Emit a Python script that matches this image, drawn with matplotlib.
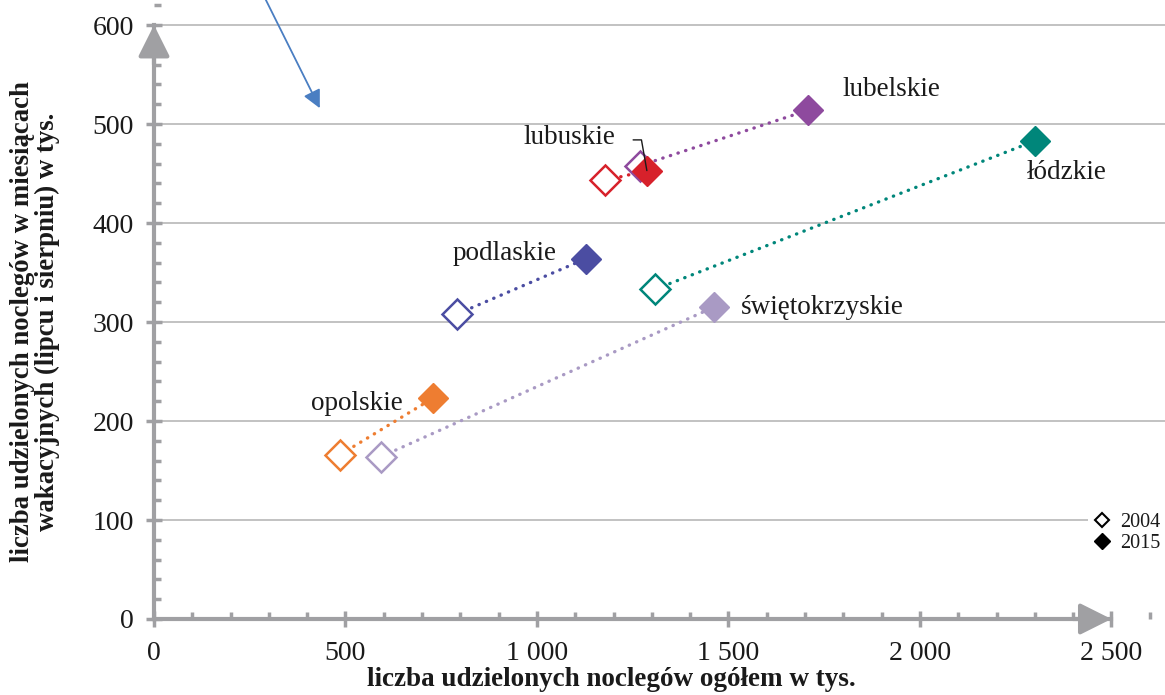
import matplotlib
matplotlib.use("Agg")
import matplotlib.pyplot as plt
from matplotlib.lines import Line2D
from matplotlib.ticker import MultipleLocator, FuncFormatter

plt.rcParams['font.family'] = ['Liberation Serif', 'DejaVu Serif']

# dane (tys. noclegów)
regiony = ['opolskie', 'świętokrzyskie', 'podlaskie', 'łódzkie', 'lubuskie', 'lubelskie']
x2004 = [486, 593, 791, 1308, 1178, 1269]
y2004 = [166, 164, 308, 333, 443, 458]
x2015 = [728, 1462, 1128, 2300, 1287, 1708]
y2015 = [223, 315, 364, 483, 453, 514]
kolory = ['#EE7D31', '#A99AC4', '#4B4DA2', '#00867A', '#D7212B', '#8E4A9E']

# pozycje podpisów
lab_x = [650, 1533, 1052, 2384, 1204, 1799]
lab_y = [218, 315, 369, 451, 486, 535]
lab_ha = ['right', 'left', 'right', 'center', 'right', 'left']

szary = '#A0A0A3'
tekst = '#1A1A1A'

fig = plt.figure(figsize=(11.65, 6.95), dpi=100)
ax = fig.add_axes([154 / 1165, 76 / 695, 1011 / 1165, 619 / 695])
ax.set_xlim(0, 2640)
ax.set_ylim(0, 625.3)

# siatka
for v in range(100, 601, 100):
    ax.axhline(v, color='#B2B2B2', lw=1.1, zorder=0)

# osie
for s in ['top', 'right']:
    ax.spines[s].set_visible(False)
ax.spines['left'].set_bounds(0, 600)
ax.spines['bottom'].set_bounds(0, 2500)
for s in ['left', 'bottom']:
    ax.spines[s].set_color(szary)
    ax.spines[s].set_linewidth(3)
    ax.spines[s].set_zorder(2)

ax.xaxis.set_major_locator(MultipleLocator(500))
ax.xaxis.set_minor_locator(MultipleLocator(100))
ax.yaxis.set_major_locator(MultipleLocator(100))
ax.yaxis.set_minor_locator(MultipleLocator(20))
ax.xaxis.set_major_formatter(FuncFormatter(lambda v, p: f'{int(v):,}'.replace(',', ' ')))
ax.tick_params(which='major', direction='inout', length=11, width=2.5, color=szary,
               labelsize=20, labelcolor=tekst)
ax.tick_params(which='minor', direction='in', length=5, width=2.5, color=szary)
ax.tick_params(axis='x', which='major', pad=10)
ax.tick_params(axis='y', which='major', pad=9)

# groty strzałek osi
ax.annotate('', xy=(0, 600), xytext=(0, 560),
            arrowprops=dict(arrowstyle='-|>,head_length=0.4,head_width=0.2', color=szary,
                            lw=3, mutation_scale=48, shrinkA=0, shrinkB=0), zorder=3)
ax.annotate('', xy=(2500, 0), xytext=(2400, 0),
            arrowprops=dict(arrowstyle='-|>,head_length=0.4,head_width=0.2', color=szary,
                            lw=3, mutation_scale=48, shrinkA=0, shrinkB=0), zorder=3)

# linie kropkowane
for i in range(len(regiony)):
    ax.plot([x2004[i], x2015[i]], [y2004[i], y2015[i]], color=kolory[i], lw=2.4,
            linestyle=(0, (0.1, 2.3)), dash_capstyle='round', zorder=3)

for i in range(len(regiony)):
    ax.plot(x2004[i], y2004[i], marker='D', ms=15, mfc='white', mec=kolory[i], mew=1.8,
            zorder=4, clip_on=False)
for i in range(len(regiony)):
    ax.plot(x2015[i], y2015[i], marker='D', ms=15, mfc=kolory[i], mec=kolory[i], mew=1,
            zorder=5, clip_on=False)

for i in range(len(regiony)):
    if regiony[i] == 'lubuskie':
        ax.annotate(regiony[i], xy=(x2015[i], y2015[i]), xytext=(lab_x[i], lab_y[i]),
                    ha='right', va='center', fontsize=19.5, color=tekst, zorder=6,
                    arrowprops=dict(arrowstyle='-', color=tekst, lw=1,
                                    connectionstyle='angle,angleA=0,angleB=100,rad=0',
                                    relpos=(1, 0.42), shrinkA=11, shrinkB=0))
    else:
        ax.text(lab_x[i], lab_y[i], regiony[i], ha=lab_ha[i], va='center', fontsize=19.5,
                color=tekst, zorder=6)

# niebieska strzałka
ax.annotate('', xy=(433, 516), xytext=(290, 627), annotation_clip=False,
            arrowprops=dict(arrowstyle='-|>,head_length=0.6,head_width=0.3', color='#4A7EC2',
                            lw=1.3, mutation_scale=18, shrinkA=0, shrinkB=0))

# legenda
uchwyty = [Line2D([], [], ls='none', marker='D', ms=7, mfc='white', mec='black', mew=1.5),
           Line2D([], [], ls='none', marker='D', ms=8, mfc='black', mec='black')]
leg = fig.legend(uchwyty, ['2004', '2015'], loc='center left',
                 bbox_to_anchor=(1088 / 1165, 1 - 533 / 695), fontsize=14.5,
                 frameon=True, facecolor='white', edgecolor='none', framealpha=1,
                 handlelength=1, handletextpad=0.4, borderpad=0.2, labelspacing=0.1,
                 borderaxespad=0, fancybox=False)
for t in leg.get_texts():
    t.set_color(tekst)

fig.text(611 / 1165, 1 - 680 / 695, 'liczba udzielonych noclegów ogółem w tys.',
         ha='center', va='center', fontsize=19.5, fontweight='bold', color=tekst)
fig.text(35 / 1165, 1 - 322 / 695,
         'liczba udzielonych noclegów w miesiącach\nwakacyjnych (lipcu i sierpniu) w tys.',
         ha='center', va='center', rotation=90, fontsize=19.3, fontweight='bold',
         color=tekst, linespacing=0.95)

fig.savefig('out.png', dpi=100)
